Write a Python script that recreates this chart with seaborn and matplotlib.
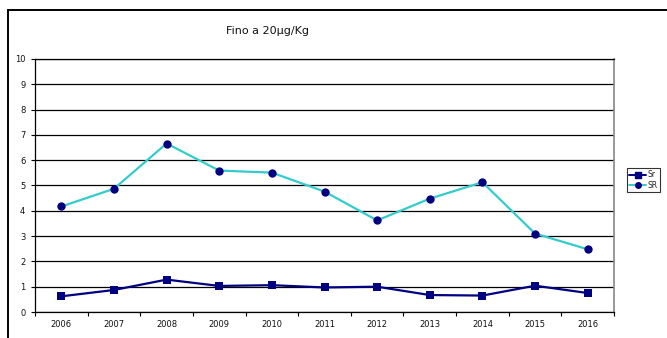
import numpy as np
import pandas as pd
import matplotlib
matplotlib.use("Agg")
import matplotlib.pyplot as plt
from matplotlib.patches import Rectangle
from matplotlib.ticker import FixedLocator
import seaborn as sns

years = ["2006", "2007", "2008", "2009", "2010", "2011",
         "2012", "2013", "2014", "2015", "2016"]
sr_lower = [0.62, 0.87, 1.28, 1.03, 1.06, 0.97, 1.00, 0.67, 0.65, 1.04, 0.75]
sr_upper = [4.17, 4.87, 6.66, 5.59, 5.51, 4.76, 3.62, 4.48, 5.13, 3.10, 2.48]
series_names = ["Sr", "SR"]
title_text = "Fino a 20\u00b5g/Kg"

df = pd.DataFrame({
    "year": years * 2,
    "pos": list(range(len(years))) * 2,
    "value": sr_lower + sr_upper,
    "series": [series_names[0]] * len(years) + [series_names[1]] * len(years),
})

sns.set_theme(style="white")
plt.rcParams["font.family"] = ["DejaVu Sans"]

W, H = 667, 338
fig = plt.figure(figsize=(W / 100, H / 100), dpi=100)
ax = fig.add_axes([35 / W, 1 - 312 / H, (614 - 35) / W, (312 - 59) / H])

navy = "#000080"
teal = "#33CCCC"

sns.lineplot(data=df, x="pos", y="value", hue="series", style="series",
             palette={"Sr": navy, "SR": teal},
             markers={"Sr": "s", "SR": "o"}, dashes=False,
             linewidth=1.6, markersize=6, markeredgewidth=0,
             ax=ax, legend=False)
# marker faces are navy for both series
for line, mk in zip(ax.get_lines(), ["s", "o"]):
    line.set_markerfacecolor(navy)
    line.set_markeredgecolor(navy)
    if mk == "s":
        line.set_markersize(5.2)

ax.set_xlim(-0.5, len(years) - 0.5)
ax.set_ylim(0, 10)
ax.set_xticks(range(len(years)))
ax.set_xticklabels(years)
ax.xaxis.set_minor_locator(FixedLocator(np.arange(-0.5, len(years), 1.0)))
ax.tick_params(axis="x", which="major", length=0, labelsize=6, pad=6,
               labelcolor="#111111")
ax.tick_params(axis="x", which="minor", length=3, width=0.8, color="black",
               direction="out", bottom=True)
ax.set_yticks(range(0, 11))
ax.tick_params(axis="y", length=3, width=0.8, color="black", direction="out",
               labelsize=6, pad=4, left=True, labelcolor="#111111")
ax.set_xlabel("")
ax.set_ylabel("")

ax.yaxis.grid(True, color="black", linewidth=0.9)
ax.set_axisbelow(True)
for side in ["left", "bottom"]:
    ax.spines[side].set_color("black")
    ax.spines[side].set_linewidth(0.9)
ax.spines["right"].set_color("#888888")
ax.spines["right"].set_linewidth(1.2)
ax.spines["top"].set_color("black")
ax.spines["top"].set_linewidth(0.9)

# outer chart frame
fig.patches.append(Rectangle((7.5 / W, -0.1), 1.2, 1 - 9.5 / H + 0.1,
                             transform=fig.transFigure, fill=False,
                             edgecolor="black", linewidth=1.4))

fig.text(267 / W, 1 - 31 / H, title_text, ha="center", va="center",
         fontsize=8, color="#111111")

handles = [
    plt.Line2D([], [], color=navy, marker="s", markersize=4,
               markerfacecolor=navy, markeredgecolor=navy, linewidth=1.4),
    plt.Line2D([], [], color=teal, marker="o", markersize=4,
               markerfacecolor=navy, markeredgecolor=navy, linewidth=1.4),
]
leg = fig.legend(handles, series_names, loc="upper left",
                 bbox_to_anchor=(627 / W, 1 - 168 / H),
                 frameon=True, fontsize=5.5, handlelength=2.2,
                 handletextpad=0.2, borderpad=0.3, labelspacing=0.2,
                 borderaxespad=0, fancybox=False)
leg.get_frame().set_edgecolor("black")
leg.get_frame().set_linewidth(0.8)

fig.savefig("out.png", dpi=100)
